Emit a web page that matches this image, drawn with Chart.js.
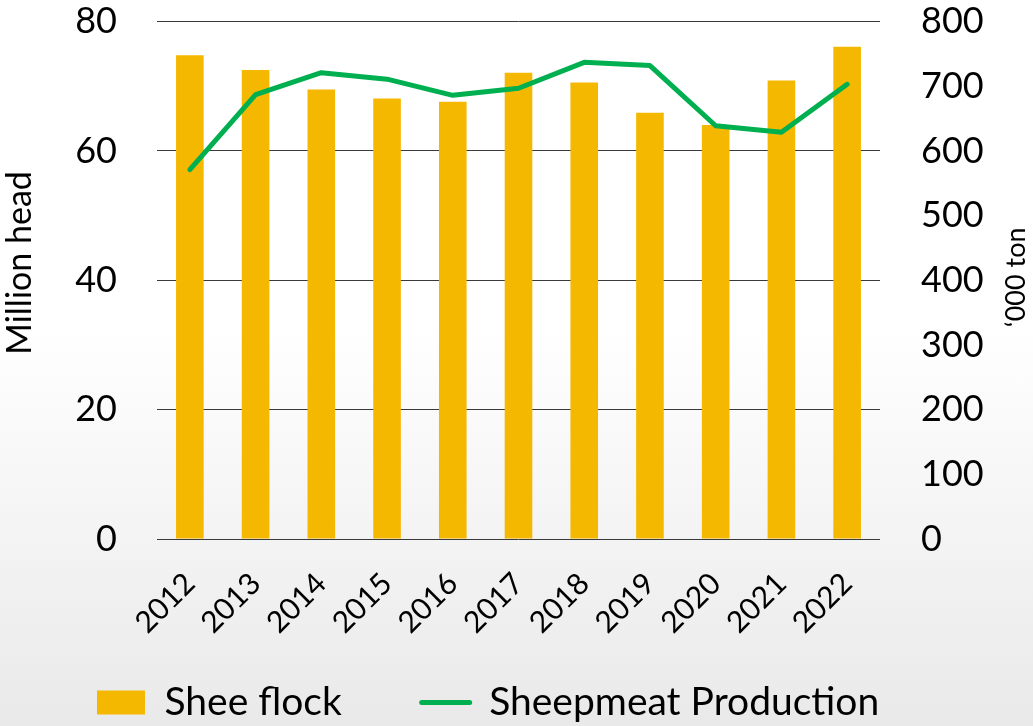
<!DOCTYPE html>
<html lang="en">
<head>
    <meta charset="UTF-8">
    <title>Sheep flock and sheepmeat production</title>
    <script src="https://cdnjs.cloudflare.com/ajax/libs/Chart.js/4.4.0/chart.umd.min.js"></script>
    <style>
        html, body {
            margin: 0;
            padding: 0;
        }
        body {
            width: 1033px;
            height: 726px;
            background: linear-gradient(to bottom, #ffffff 0%, #ffffff 45%, #e9e9e9 100%);
        }
        .chart-box {
            width: 1033px;
            height: 726px;
        }
    </style>
</head>
<body>
    <div class="chart-box">
        <canvas id="sheepChart"></canvas>
    </div>

    <script>
        // data
        const years = ['2012', '2013', '2014', '2015', '2016', '2017', '2018', '2019', '2020', '2021', '2022'];
        const flock = [74.8, 72.5, 69.5, 68.1, 67.6, 72.1, 70.6, 65.9, 64.0, 70.9, 76.1];        // million head
        const meatProduction = [571, 687, 721, 711, 686, 697, 737, 732, 639, 629, 703];     // '000 ton
        const leftTicks = [0, 20, 40, 60, 80];
        const rightTicks = [0, 100, 200, 300, 400, 500, 600, 700, 800];
        const rightTitle = '\u2018000 ton';

        const fontName = 'Lato, "Open Sans", sans-serif';
        const barColor = '#F5B800';
        const lineColor = '#00B050';

        // move the legend row to where it sits in the original
        const legendShift = {
            id: 'legendShift',
            afterLayout(chart) {
                chart.legend.left += 87;
                chart.legend.right += 87;
                chart.legend.top += 8;
                chart.legend.bottom += 8;
            }
        };

        // chart.js turns a right-hand title clockwise; the original reads bottom to top
        const rightAxisTitle = {
            id: 'rightAxisTitle',
            afterDraw(chart) {
                const s = chart.scales.y1;
                const c = chart.ctx;
                c.save();
                c.translate(s.right - 17, (s.top + s.bottom) / 2 - 3);
                c.rotate(-Math.PI / 2);
                c.font = '27px ' + fontName;
                c.fillStyle = '#000';
                c.textAlign = 'center';
                c.textBaseline = 'middle';
                c.fillText(rightTitle, 0, 0);
                c.restore();
            }
        };

        const ctx = document.getElementById('sheepChart').getContext('2d');
        const chart = new Chart(ctx, {
            type: 'bar',
            data: {
                labels: years,
                datasets: [{
                    type: 'bar',
                    label: 'Shee flock',
                    data: flock,
                    backgroundColor: barColor,
                    borderWidth: 0,
                    barPercentage: 0.42,
                    categoryPercentage: 1,
                    yAxisID: 'y',
                    pointStyle: 'rect',
                    order: 1
                }, {
                    type: 'line',
                    label: 'Sheepmeat Production',
                    data: meatProduction,
                    borderColor: lineColor,
                    backgroundColor: lineColor,
                    borderWidth: 5,
                    borderCapStyle: 'round',
                    borderJoinStyle: 'round',
                    pointRadius: 0,
                    tension: 0,
                    fill: false,
                    yAxisID: 'y1',
                    pointStyle: 'line',
                    order: 0
                }]
            },
            options: {
                responsive: true,
                maintainAspectRatio: false,
                animation: false,
                layout: {
                    padding: { top: 0, left: 0, right: 0, bottom: 2 }
                },
                plugins: {
                    tooltip: { enabled: false },
                    legend: {
                        position: 'bottom',
                        align: 'start',
                        labels: {
                            usePointStyle: true,
                            pointStyleWidth: 48,
                            boxHeight: 24,
                            padding: 10,
                            color: '#000',
                            font: { family: fontName, size: 39 },
                            sort: (a, b) => a.datasetIndex - b.datasetIndex,
                            generateLabels: function(chart) {
                                const items = Chart.defaults.plugins.legend.labels.generateLabels(chart);
                                items.forEach(item => {
                                    // extra gap after the first entry, like the original legend
                                    if (item.datasetIndex === 0) item.text = item.text + '       ';
                                    if (item.datasetIndex === 1) item.lineWidth = 5;
                                    item.lineCap = 'round';
                                });
                                return items;
                            }
                        }
                    }
                },
                scales: {
                    x: {
                        grid: { display: false },
                        border: { display: false },
                        ticks: {
                            color: '#000',
                            font: { family: fontName, size: 30 },
                            minRotation: 45,
                            maxRotation: 45,
                            padding: 19
                        },
                        afterFit: function(scale) { scale.height = 126; }
                    },
                    y: {
                        position: 'left',
                        min: 0,
                        max: 80,
                        afterBuildTicks: function(scale) {
                            scale.ticks = leftTicks.map(v => ({ value: v }));
                        },
                        grid: {
                            color: '#3a3a3a',
                            lineWidth: 1,
                            drawTicks: true,
                            tickLength: 40,
                            tickColor: 'transparent'
                        },
                        border: { display: false },
                        ticks: {
                            color: '#000',
                            font: { family: fontName, size: 36 },
                            padding: 0
                        },
                        title: {
                            display: true,
                            text: '    Million head',
                            color: '#000',
                            font: { family: fontName, size: 34 },
                            padding: { top: 0, bottom: 0 }
                        },
                        afterFit: function(scale) { scale.width = 157; }
                    },
                    y1: {
                        position: 'right',
                        min: 0,
                        max: 800,
                        afterBuildTicks: function(scale) {
                            scale.ticks = rightTicks.map(v => ({ value: v }));
                        },
                        grid: {
                            drawOnChartArea: false,
                            drawTicks: true,
                            tickLength: 41,
                            tickColor: 'transparent'
                        },
                        border: { display: false },
                        ticks: {
                            color: '#000',
                            font: { family: fontName, size: 36 },
                            padding: 0
                        },
                        title: { display: false },
                        afterFit: function(scale) { scale.width = 153; }
                    }
                }
            },
            plugins: [legendShift, rightAxisTitle]
        });
    </script>
</body>
</html>
